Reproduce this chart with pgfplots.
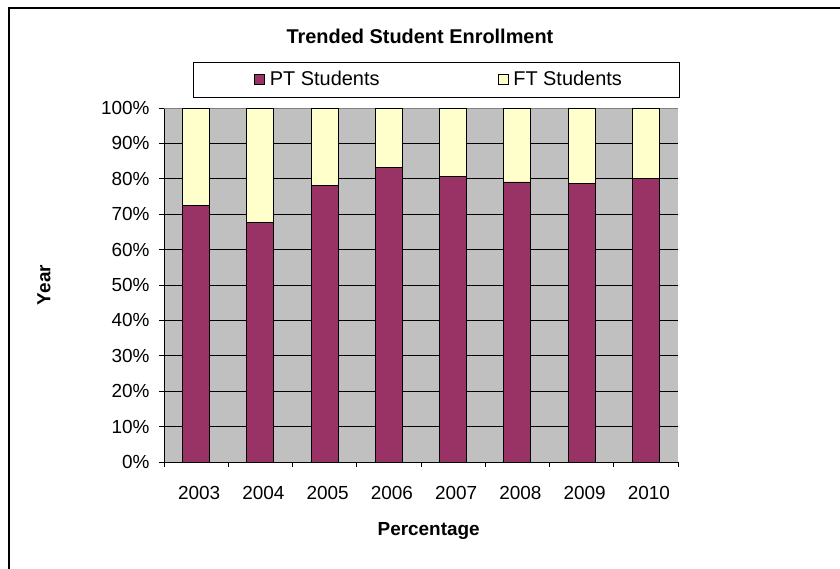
\documentclass[border=0pt]{standalone}
\usepackage{pgfplots}
\pgfplotsset{compat=1.18}
\usepackage{fontspec}
\setmainfont{Liberation Sans}
\definecolor{ptcol}{HTML}{993366}
\definecolor{ftcol}{HTML}{FFFFCC}
\definecolor{plotbg}{HTML}{C0C0C0}
\definecolor{plotborder}{HTML}{808080}
\begin{document}
\begin{tikzpicture}
\path[use as bounding box] (0,0) rectangle (840bp,-569bp);
\begin{scope}
\clip (0,0) rectangle (840bp,-569bp);
\fill[white] (0,0) rectangle (840bp,-569bp);
\draw[line width=1.2bp] (9bp,-700bp) -- (9bp,-8bp) -- (900bp,-8bp);
\end{scope}
\draw[line width=0.8bp] (193bp,-62bp) rectangle (679bp,-97bp);
\begin{axis}[
  at={(164bp,-462bp)}, anchor=south west,
  scale only axis, width=514bp, height=354bp,
  xmin=-0.5, xmax=7.5, ymin=0, ymax=100,
  ybar stacked, bar width=27bp,
  axis background/.style={fill=plotbg},
  axis line style={draw=black, line width=0.9bp},
  axis x line*=bottom, axis y line*=left,
  xtick={0,...,7},
  xticklabels={2003,2004,2005,2006,2007,2008,2009,2010},
  minor xtick={-0.5,0.5,...,7.5},
  major x tick style={draw=none},
  minor tick length=5bp,
  major tick length=5bp,
  tick align=outside,
  tick style={black, line width=0.8bp},
  ytick={0,10,...,100},
  yticklabel={\pgfmathprintnumber{\tick}\%},
  ymajorgrids, major grid style={black, line width=0.8bp},
  /pgf/number format/assume math mode=true,
  tick label style={font=\fontsize{19}{22}\selectfont},
  xticklabel style={yshift=-16bp, xshift=3bp},
  yticklabel style={xshift=-6bp},
  title={\textbf{Trended Student Enrollment}},
  title style={at={(axis description cs:0.498,1.186)}, anchor=center, font=\fontsize{20}{24}\selectfont},
  xlabel={\textbf{Percentage}},
  xlabel style={at={(axis description cs:0.515,-0.195)}, anchor=center, font=\fontsize{19}{22}\selectfont},
  ylabel={\textbf{Year}},
  ylabel style={at={(axis description cs:-0.2335,0.5)}, anchor=center, rotate=0, font=\fontsize{19}{22}\selectfont},
  legend columns=2,
  legend style={draw=none, fill=none, at={(axis description cs:0.535,1.0805)}, anchor=center,
    font=\fontsize{20}{24}\selectfont,
    /tikz/every odd column/.append style={column sep=3bp},
    /tikz/every even column/.append style={column sep=116bp}},
  legend image code/.code={\draw[#1, draw=black, line width=0.8bp] (0bp,-5bp) rectangle (10bp,5bp);},
]
\addplot[fill=ptcol, draw=black, line width=0.9bp] coordinates {(0,72.6) (1,67.7) (2,78.0) (3,83.3) (4,80.6) (5,79.1) (6,78.6) (7,80.1)};
\addplot[fill=ftcol, draw=black, line width=0.9bp] coordinates {(0,27.4) (1,32.3) (2,22.0) (3,16.7) (4,19.4) (5,20.9) (6,21.4) (7,19.9)};
\legend{PT Students, FT Students}
\draw[plotborder, line width=0.8bp] (axis cs:-0.5,100) -- (axis cs:7.5,100) -- (axis cs:7.5,0);
\end{axis}
\end{tikzpicture}
\end{document}
